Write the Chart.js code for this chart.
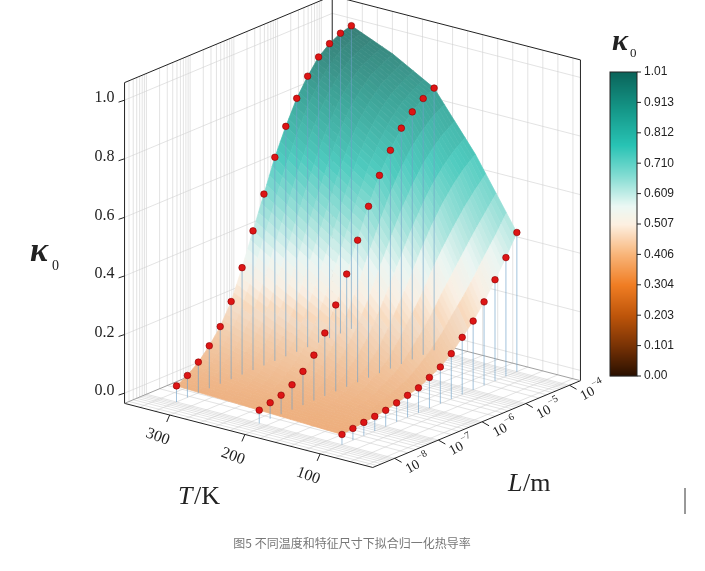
<!DOCTYPE html>
<html><head><meta charset="utf-8">
<script src="https://cdn.jsdelivr.net/npm/chart.js@4/dist/chart.umd.min.js"></script>
<style>html,body{margin:0;padding:0;background:#fff}#wrap{width:705px;height:571px;position:relative}</style>
</head><body><div id="wrap"><canvas id="c" width="705" height="571" style="width:705px;height:571px"></canvas></div>
<script>
// ---- data ----
const kappaTicks=[0,0.2,0.4,0.6,0.8,1.0];
const tempTicks=[100,200,300];
const lengthTickExps=[-8,-7,-6,-5,-4];
const colorbarTicks=['1.01','0.913','0.812','0.710','0.609','0.507','0.406','0.304','0.203','0.101','0.00'];
const temps=[320,265,210,155,100];
const logL=[-8,-7.75,-7.5,-7.25,-7,-6.75,-6.5,-6.25,-6,-5.75,-5.5,-5.25,-5,-4.75,-4.5,-4.25,-4];
const kappaT320=[0.02,0.04,0.07,0.11,0.16,0.23,0.33,0.44,0.55,0.66,0.75,0.83,0.89,0.94,0.97,0.99,1.0];
const kappaT265=[0.015,0.03,0.05,0.08,0.12,0.17,0.25,0.35,0.45,0.55,0.65,0.74,0.81,0.86,0.9,0.92,0.94];
const kappaT210=[0.01,0.02,0.03,0.05,0.08,0.12,0.18,0.26,0.35,0.45,0.55,0.64,0.71,0.77,0.81,0.84,0.86];
const kappaT155=[0.005,0.01,0.02,0.03,0.045,0.07,0.1,0.14,0.2,0.27,0.34,0.42,0.49,0.55,0.6,0.64,0.67];
const kappaT100=[0.0,0.005,0.01,0.015,0.02,0.03,0.04,0.05,0.07,0.09,0.12,0.16,0.2,0.25,0.31,0.37,0.44];
const surfaceRows=[kappaT320,kappaT265,kappaT210,kappaT155,kappaT100];
const dotRows=[{T:320,k:kappaT320},{T:210,k:kappaT210},{T:100,k:kappaT100}];

// ---- projection ----
const Tmax=360,Tspan=330,Lmin=-8.5,Lspan=4.75,Kmin=-0.035,Kmax=1.06;
function P(T,l,k){const fT=(Tmax-T)/Tspan,fL=(l-Lmin)/Lspan;
 return {x:122+251*fT+210*fL,y:405+65*fT-88*fL-(k-Kmin)*297};}
const stops=[[0,[40,15,0]],[0.1,[120,50,5]],[0.2,[190,85,10]],[0.3,[240,125,35]],[0.4,[248,180,120]],[0.5,[253,240,225]],[0.56,[235,248,244]],[0.66,[130,220,210]],[0.76,[40,195,180]],[0.88,[20,150,135]],[1.0,[10,100,90]]];
function rgb(v){v=Math.max(0,Math.min(1,v));for(let i=1;i<stops.length;i++){if(v<=stops[i][0]){const[a0,c0]=stops[i-1],[a1,c1]=stops[i];const t=(v-a0)/(a1-a0);return c0.map((q,j)=>Math.round(q+(c1[j]-q)*t));}}return [10,100,90];}
function cmap(v,a){const c=rgb(v);return `rgba(${c[0]},${c[1]},${c[2]},${a})`;}
// surface shading: lighter (semi-transparent look) over white
function smap(v){const c=rgb(v);const w=v<0.45?0.45:0.2;return `rgb(${c.map(q=>Math.round(q*(1-w)+235*w)).join(',')})`;}

const dots=[];dotRows.forEach(r=>logL.forEach((l,i)=>{const p=P(r.T,l,r.k[i]);dots.push({x:p.x,y:p.y,T:r.T,l:l,k:r.k[i]});}));

const scene={id:'scene',
beforeDatasetsDraw(chart){
 const ctx=chart.ctx,sx=chart.scales.x,sy=chart.scales.y;
 const Q=(T,l,k)=>{const p=P(T,l,k);return [sx.getPixelForValue(p.x),sy.getPixelForValue(p.y)];};
 const line=(a,b,col,w)=>{ctx.beginPath();ctx.moveTo(a[0],a[1]);ctx.lineTo(b[0],b[1]);ctx.strokeStyle=col;ctx.lineWidth=w;ctx.stroke();};
 const Tmin=Tmax-Tspan,Lmax=Lmin+Lspan;
 ctx.save();
 const minors=[];for(let d=-9;d<=-4;d++)for(let m=1;m<=9;m++){const l=d+Math.log10(m);if(l>Lmin&&l<Lmax)minors.push(l);}
 const tl=[];for(let t=40;t<Tmax;t+=20)tl.push(t);
 const g='#d0d0d0';
 minors.forEach(l=>{line(Q(Tmax,l,Kmin),Q(Tmax,l,Kmax),g,0.6);line(Q(Tmax,l,Kmin),Q(Tmin,l,Kmin),g,0.6);});
 tl.forEach(t=>{line(Q(t,Lmax,Kmin),Q(t,Lmax,Kmax),g,0.6);line(Q(t,Lmin,Kmin),Q(t,Lmax,Kmin),g,0.6);});
 kappaTicks.forEach(k=>{line(Q(Tmax,Lmin,k),Q(Tmax,Lmax,k),g,0.6);line(Q(Tmax,Lmax,k),Q(Tmin,Lmax,k),g,0.6);});
 const K='#222';
 line(Q(Tmax,Lmin,Kmin),Q(Tmax,Lmin,Kmax),K,1);line(Q(Tmax,Lmax,Kmin),Q(Tmax,Lmax,Kmax),K,1);line(Q(Tmin,Lmax,Kmin),Q(Tmin,Lmax,Kmax),K,1);
 line(Q(Tmax,Lmin,Kmax),Q(Tmax,Lmax,Kmax),K,1);line(Q(Tmax,Lmax,Kmax),Q(Tmin,Lmax,Kmax),K,1);
 line(Q(Tmax,Lmin,Kmin),Q(Tmin,Lmin,Kmin),K,1);line(Q(Tmin,Lmin,Kmin),Q(Tmin,Lmax,Kmin),K,1);
 line(Q(Tmax,Lmin,Kmin),Q(Tmax,Lmax,Kmin),'#888',0.8);line(Q(Tmax,Lmax,Kmin),Q(Tmin,Lmax,Kmin),'#888',0.8);
 // surface
 const quads=[];const S=4;
 for(let r=0;r<temps.length-1;r++)for(let c=0;c<logL.length-1;c++)for(let a=0;a<S;a++)for(let b=0;b<S;b++){
  const u0=a/S,u1=(a+1)/S,v0=b/S,v1=(b+1)/S;
  const kk=(u,v)=>{const k00=surfaceRows[r][c],k01=surfaceRows[r][c+1],k10=surfaceRows[r+1][c],k11=surfaceRows[r+1][c+1];return k00*(1-u)*(1-v)+k01*(1-u)*v+k10*u*(1-v)+k11*u*v;};
  const TT=u=>temps[r]+(temps[r+1]-temps[r])*u,LL=v=>logL[c]+(logL[c+1]-logL[c])*v;
  const pts=[[u0,v0],[u0,v1],[u1,v1],[u1,v0]].map(([u,v])=>Q(TT(u),LL(v),kk(u,v)));
  const km=kk((u0+u1)/2,(v0+v1)/2);
  const fT=(Tmax-TT((u0+u1)/2))/Tspan,fL=(LL((v0+v1)/2)-Lmin)/Lspan;
  quads.push({pts,km,d:fT-fL});}
 quads.sort((p,q)=>p.d-q.d);
 quads.forEach(q=>{ctx.beginPath();q.pts.forEach((p,i)=>i?ctx.lineTo(p[0],p[1]):ctx.moveTo(p[0],p[1]));ctx.closePath();const col=smap(0.3+q.km*0.7);ctx.fillStyle=col;ctx.strokeStyle=col;ctx.lineWidth=0.7;ctx.fill();ctx.stroke();});
 dots.forEach(d=>line(Q(d.T,d.l,d.k),Q(d.T,d.l,Kmin),'rgba(110,160,200,0.8)',0.8));
 ctx.fillStyle='#222';ctx.font='16px "Liberation Serif"';ctx.textAlign='right';ctx.textBaseline='middle';
 kappaTicks.forEach(k=>{const p=Q(Tmax,Lmin,k);line(p,[p[0]-6,p[1]+2],K,1);ctx.fillText(k.toFixed(1),p[0]-10,p[1]-2);});
 tempTicks.forEach(t=>{const p=Q(t,Lmin,Kmin);line(p,[p[0]-3,p[1]+7],K,1);ctx.save();ctx.translate(p[0]-12,p[1]+22);ctx.rotate(0.35);ctx.textAlign='center';ctx.fillText(String(t),0,0);ctx.restore();});
 lengthTickExps.forEach(e=>{const p=Q(Tmin,e,Kmin);line(p,[p[0]+7,p[1]+4],K,1);ctx.save();ctx.translate(p[0]+12,p[1]+12);ctx.rotate(-0.5);ctx.textAlign='left';ctx.font='14px "Liberation Serif"';ctx.fillText('10',0,0);ctx.font='10px "Liberation Serif"';ctx.fillText('−'+(-e),15,-6);ctx.restore();});
 ctx.textAlign='left';ctx.font='italic 26px "Liberation Serif"';ctx.fillText('T',178,497);ctx.font='26px "Liberation Serif"';ctx.fillText('/K',194,497);
 ctx.font='italic 26px "Liberation Serif"';ctx.fillText('L',508,484);ctx.font='26px "Liberation Serif"';ctx.fillText('/m',523,484);
 ctx.font='bold italic 34px "Liberation Serif"';ctx.fillText('κ',30,252);ctx.font='14px "Liberation Serif"';ctx.fillText('0',52,266);
 const cx=610,cy0=72,cy1=376,cw=27;
 for(let y=cy0;y<cy1;y++){ctx.fillStyle=cmap(1-(y-cy0)/(cy1-cy0),1);ctx.fillRect(cx,y,cw,1.2);}
 ctx.strokeStyle='#222';ctx.lineWidth=1;ctx.strokeRect(cx,cy0,cw,cy1-cy0);
 ctx.fillStyle='#222';ctx.font='12px "Liberation Sans"';ctx.textAlign='left';
 colorbarTicks.forEach((t,i)=>{const y=cy0+i*(cy1-cy0)/10;line([cx+cw,y],[cx+cw+4,y],'#222',1);ctx.fillText(t,cx+cw+7,y);});
 ctx.font='bold italic 30px "Liberation Serif"';ctx.fillText('κ',612,42);ctx.font='13px "Liberation Serif"';ctx.fillText('0',630,54);
 ctx.fillStyle='#777';ctx.font='12px "Noto Sans CJK SC"';ctx.textAlign='center';ctx.fillText('图5 不同温度和特征尺寸下拟合归一化热导率',352,543);
 line([685,488],[685,514],'#333',1);
 ctx.restore();
}};

new Chart(document.getElementById('c'),{type:'scatter',
 data:{datasets:[{data:dots.map(d=>({x:d.x,y:d.y})),pointRadius:3.3,pointHoverRadius:3.3,
  pointBackgroundColor:'#dd1515',pointBorderColor:'#8a0000',pointBorderWidth:0.6}]},
 options:{responsive:false,maintainAspectRatio:false,animation:false,devicePixelRatio:1,layout:{padding:0},
  plugins:{legend:{display:false},tooltip:{enabled:false}},
  scales:{x:{type:'linear',min:0,max:705,display:false},y:{type:'linear',min:0,max:571,reverse:true,display:false}}},
 plugins:[scene]});
</script></body></html>
